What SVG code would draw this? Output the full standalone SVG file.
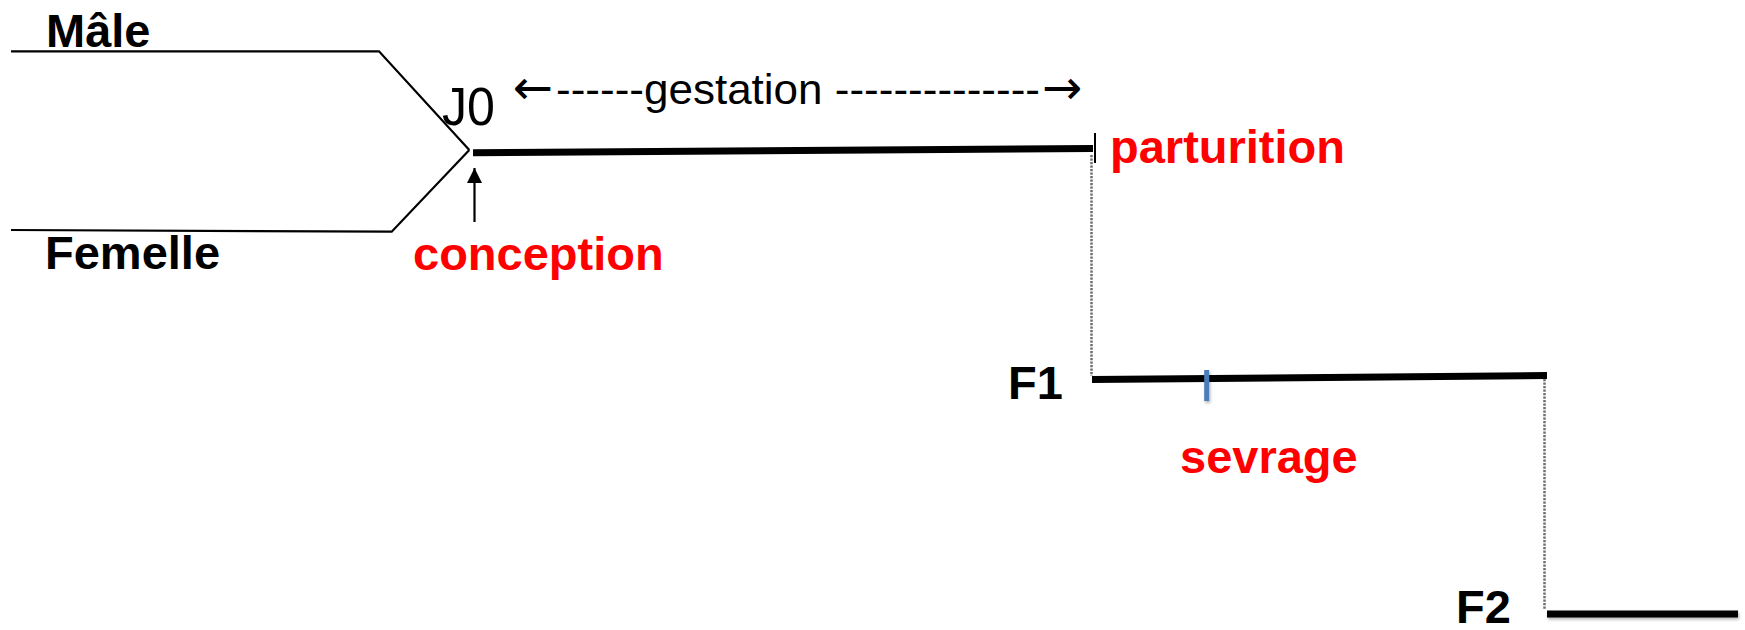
<svg xmlns="http://www.w3.org/2000/svg" width="1745" height="630" viewBox="0 0 1745 630">
  <style>
    .bold { font-family: "Liberation Sans", Arial, sans-serif; font-weight: bold; font-size: 47px; }
    .black { fill: #000; }
    .red { fill: #ff0000; }
    .plain { font-family: "Liberation Sans", Arial, sans-serif; font-size: 42px; fill: #000; }
    .big { font-size: 53px; }
    .arrowglyph { font-family: "DejaVu Sans", sans-serif; font-size: 48px; }
    .thin { stroke: #000; stroke-width: 2.2; fill: none; }
    .bar { stroke: #000; stroke-width: 7; fill: none; }
    .dots { stroke: #6e6e6e; stroke-width: 2.5; stroke-dasharray: 2.2 1.3; fill: none; }
  </style>
  <defs>
    <marker id="head" viewBox="0 0 10 10" refX="10" refY="5" markerWidth="7" markerHeight="7" orient="auto" markerUnits="strokeWidth">
      <path d="M0,0 L10,5 L0,10 z" fill="#000"/>
    </marker>
    <filter id="soft" filterUnits="userSpaceOnUse" x="0" y="0" width="1745" height="630">
      <feDropShadow dx="1" dy="2" stdDeviation="1.5" flood-color="#000" flood-opacity="0.3"/>
    </filter>
  </defs>
  <rect width="1745" height="630" fill="#fff"/>

  <!-- parent lineages -->
  <g id="male">
    <polyline class="thin" points="11,51.3 379,51.3 469.3,150"/>
    <text class="bold black" x="46" y="46.5">Mâle</text>
  </g>
  <g id="femelle">
    <polyline class="thin" points="11,230 391.7,231.7 469.3,150"/>
    <text class="bold black" x="45" y="269">Femelle</text>
  </g>

  <!-- gestation period -->
  <g id="j0">
    <text class="plain big" x="442" y="125" textLength="53" lengthAdjust="spacingAndGlyphs">J0</text>
  </g>
  <g id="gestation">
    <text class="plain" y="104"><tspan class="arrowglyph" x="513">←</tspan><tspan x="556" textLength="484" lengthAdjust="spacingAndGlyphs">------gestation --------------</tspan><tspan class="arrowglyph" x="1042">→</tspan></text>
    <line class="bar" x1="473" y1="152.7" x2="1093" y2="148.5"/>
  </g>
  <g id="conception">
    <text class="bold red" x="413" y="269.5">conception</text>
  </g>
  <g id="parturition">
    <line x1="1095" y1="133" x2="1095" y2="163" stroke="#000" stroke-width="2"/>
    <text class="bold red" x="1110" y="163">parturition</text>
  </g>

  <!-- first generation -->
  <g id="f1">
    <text class="bold black" x="1008" y="399">F1</text>
    <line class="bar" x1="1092" y1="379.5" x2="1547" y2="375.5"/>
  </g>
  <g id="sevrage">
    <rect x="1204.2" y="370" width="5" height="31" fill="#4a7ebb" filter="url(#soft)"/>
    <text class="bold red" x="1180" y="473">sevrage</text>
  </g>

  <!-- second generation -->
  <g id="f2">
    <text class="bold black" x="1456" y="623">F2</text>
    <rect x="1547" y="610.5" width="191" height="7" fill="#000" filter="url(#soft)"/>
  </g>

  <g id="connectors">
    <line class="thin" x1="474.5" y1="222" x2="474.5" y2="168" marker-end="url(#head)"/>
    <line class="dots" x1="1091.5" y1="155" x2="1091.5" y2="376"/>
    <line class="dots" x1="1544.5" y1="379" x2="1544.5" y2="610"/>
  </g>
</svg>
